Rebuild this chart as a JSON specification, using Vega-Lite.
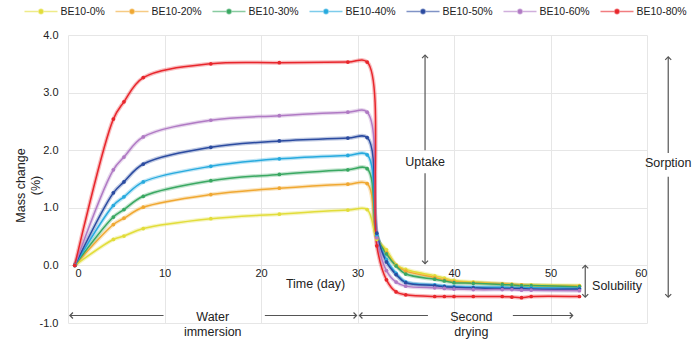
{
  "$schema": "https://vega.github.io/schema/vega-lite/v6.json",
  "width": 579,
  "height": 288,
  "autosize": "none",
  "padding": {"left": 68, "top": 35, "right": 53, "bottom": 21},
  "background": "white",
  "config": {
    "view": {"stroke": null},
    "font": "Liberation Sans",
    "text": {"font": "Liberation Sans"}
  },
  "datasets": {
    "series": [
      {"s":"BE10-0%","d":0.7,"v":0},{"s":"BE10-0%","d":4.7,"v":0.45},{"s":"BE10-0%","d":5.8,"v":0.51},{"s":"BE10-0%","d":7.8,"v":0.64},{"s":"BE10-0%","d":14.8,"v":0.81},{"s":"BE10-0%","d":21.9,"v":0.89},{"s":"BE10-0%","d":29,"v":0.96},{"s":"BE10-0%","d":31,"v":0.97},{"s":"BE10-0%","d":32,"v":0.45},{"s":"BE10-0%","d":33,"v":0.27},{"s":"BE10-0%","d":34,"v":0.01},{"s":"BE10-0%","d":35,"v":-0.07},{"s":"BE10-0%","d":38,"v":-0.18},{"s":"BE10-0%","d":39,"v":-0.22},{"s":"BE10-0%","d":40,"v":-0.26},{"s":"BE10-0%","d":42,"v":-0.29},{"s":"BE10-0%","d":45,"v":-0.32},{"s":"BE10-0%","d":46,"v":-0.33},{"s":"BE10-0%","d":47,"v":-0.34},{"s":"BE10-0%","d":48,"v":-0.34},{"s":"BE10-0%","d":53,"v":-0.35},
      {"s":"BE10-20%","d":0.7,"v":0},{"s":"BE10-20%","d":4.7,"v":0.71},{"s":"BE10-20%","d":5.8,"v":0.82},{"s":"BE10-20%","d":7.8,"v":1.01},{"s":"BE10-20%","d":14.8,"v":1.23},{"s":"BE10-20%","d":21.9,"v":1.34},{"s":"BE10-20%","d":29,"v":1.41},{"s":"BE10-20%","d":31,"v":1.42},{"s":"BE10-20%","d":32,"v":0.48},{"s":"BE10-20%","d":33,"v":0.22},{"s":"BE10-20%","d":34,"v":0.0},{"s":"BE10-20%","d":35,"v":-0.10},{"s":"BE10-20%","d":38,"v":-0.21},{"s":"BE10-20%","d":39,"v":-0.25},{"s":"BE10-20%","d":40,"v":-0.28},{"s":"BE10-20%","d":42,"v":-0.30},{"s":"BE10-20%","d":45,"v":-0.32},{"s":"BE10-20%","d":46,"v":-0.33},{"s":"BE10-20%","d":47,"v":-0.34},{"s":"BE10-20%","d":48,"v":-0.35},{"s":"BE10-20%","d":53,"v":-0.36},
      {"s":"BE10-30%","d":0.7,"v":0},{"s":"BE10-30%","d":4.7,"v":0.84},{"s":"BE10-30%","d":5.8,"v":0.97},{"s":"BE10-30%","d":7.8,"v":1.20},{"s":"BE10-30%","d":14.8,"v":1.47},{"s":"BE10-30%","d":21.9,"v":1.58},{"s":"BE10-30%","d":29,"v":1.66},{"s":"BE10-30%","d":31,"v":1.68},{"s":"BE10-30%","d":32,"v":0.50},{"s":"BE10-30%","d":33,"v":0.20},{"s":"BE10-30%","d":34,"v":-0.01},{"s":"BE10-30%","d":35,"v":-0.15},{"s":"BE10-30%","d":38,"v":-0.24},{"s":"BE10-30%","d":39,"v":-0.27},{"s":"BE10-30%","d":40,"v":-0.30},{"s":"BE10-30%","d":42,"v":-0.31},{"s":"BE10-30%","d":45,"v":-0.33},{"s":"BE10-30%","d":46,"v":-0.34},{"s":"BE10-30%","d":47,"v":-0.35},{"s":"BE10-30%","d":48,"v":-0.35},{"s":"BE10-30%","d":53,"v":-0.37},
      {"s":"BE10-40%","d":0.7,"v":0},{"s":"BE10-40%","d":4.7,"v":1.04},{"s":"BE10-40%","d":5.8,"v":1.19},{"s":"BE10-40%","d":7.8,"v":1.45},{"s":"BE10-40%","d":14.8,"v":1.72},{"s":"BE10-40%","d":21.9,"v":1.85},{"s":"BE10-40%","d":29,"v":1.91},{"s":"BE10-40%","d":31,"v":1.92},{"s":"BE10-40%","d":32,"v":0.52},{"s":"BE10-40%","d":33,"v":0.10},{"s":"BE10-40%","d":34,"v":-0.14},{"s":"BE10-40%","d":35,"v":-0.29},{"s":"BE10-40%","d":38,"v":-0.34},{"s":"BE10-40%","d":39,"v":-0.36},{"s":"BE10-40%","d":40,"v":-0.37},{"s":"BE10-40%","d":42,"v":-0.38},{"s":"BE10-40%","d":45,"v":-0.38},{"s":"BE10-40%","d":46,"v":-0.39},{"s":"BE10-40%","d":47,"v":-0.39},{"s":"BE10-40%","d":48,"v":-0.39},{"s":"BE10-40%","d":53,"v":-0.40},
      {"s":"BE10-50%","d":0.7,"v":0},{"s":"BE10-50%","d":4.7,"v":1.26},{"s":"BE10-50%","d":5.8,"v":1.45},{"s":"BE10-50%","d":7.8,"v":1.76},{"s":"BE10-50%","d":14.8,"v":2.05},{"s":"BE10-50%","d":21.9,"v":2.16},{"s":"BE10-50%","d":29,"v":2.21},{"s":"BE10-50%","d":31,"v":2.22},{"s":"BE10-50%","d":32,"v":0.56},{"s":"BE10-50%","d":33,"v":0.06},{"s":"BE10-50%","d":34,"v":-0.16},{"s":"BE10-50%","d":35,"v":-0.30},{"s":"BE10-50%","d":38,"v":-0.35},{"s":"BE10-50%","d":39,"v":-0.37},{"s":"BE10-50%","d":40,"v":-0.38},{"s":"BE10-50%","d":42,"v":-0.39},{"s":"BE10-50%","d":45,"v":-0.40},{"s":"BE10-50%","d":46,"v":-0.40},{"s":"BE10-50%","d":47,"v":-0.40},{"s":"BE10-50%","d":48,"v":-0.41},{"s":"BE10-50%","d":53,"v":-0.41},
      {"s":"BE10-60%","d":0.7,"v":0},{"s":"BE10-60%","d":4.7,"v":1.66},{"s":"BE10-60%","d":5.8,"v":1.88},{"s":"BE10-60%","d":7.8,"v":2.23},{"s":"BE10-60%","d":14.8,"v":2.52},{"s":"BE10-60%","d":21.9,"v":2.60},{"s":"BE10-60%","d":29,"v":2.66},{"s":"BE10-60%","d":31,"v":2.66},{"s":"BE10-60%","d":32,"v":0.48},{"s":"BE10-60%","d":33,"v":-0.09},{"s":"BE10-60%","d":34,"v":-0.29},{"s":"BE10-60%","d":35,"v":-0.36},{"s":"BE10-60%","d":38,"v":-0.39},{"s":"BE10-60%","d":39,"v":-0.40},{"s":"BE10-60%","d":40,"v":-0.41},{"s":"BE10-60%","d":42,"v":-0.42},{"s":"BE10-60%","d":45,"v":-0.42},{"s":"BE10-60%","d":46,"v":-0.42},{"s":"BE10-60%","d":47,"v":-0.43},{"s":"BE10-60%","d":48,"v":-0.43},{"s":"BE10-60%","d":53,"v":-0.44},
      {"s":"BE10-80%","d":0.7,"v":0},{"s":"BE10-80%","d":4.7,"v":2.54},{"s":"BE10-80%","d":5.8,"v":2.84},{"s":"BE10-80%","d":7.8,"v":3.26},{"s":"BE10-80%","d":14.8,"v":3.50},{"s":"BE10-80%","d":21.9,"v":3.52},{"s":"BE10-80%","d":29,"v":3.53},{"s":"BE10-80%","d":31,"v":3.53},{"s":"BE10-80%","d":32,"v":0.34},{"s":"BE10-80%","d":33,"v":-0.25},{"s":"BE10-80%","d":34,"v":-0.46},{"s":"BE10-80%","d":35,"v":-0.51},{"s":"BE10-80%","d":38,"v":-0.54},{"s":"BE10-80%","d":39,"v":-0.54},{"s":"BE10-80%","d":40,"v":-0.54},{"s":"BE10-80%","d":42,"v":-0.54},{"s":"BE10-80%","d":45,"v":-0.54},{"s":"BE10-80%","d":46,"v":-0.55},{"s":"BE10-80%","d":47,"v":-0.56},{"s":"BE10-80%","d":48,"v":-0.54},{"s":"BE10-80%","d":53,"v":-0.54}
    ],
    "segs": [
      {"x":37,"y":3.65,"x2":37,"y2":2.0},
      {"x":37,"y":1.6,"x2":37,"y2":0.03},
      {"x":62.2,"y":3.62,"x2":62.2,"y2":1.95},
      {"x":62.2,"y":1.54,"x2":62.2,"y2":-0.55},
      {"x":53.6,"y":0,"x2":53.6,"y2":-0.55},
      {"x":0.2,"y":-0.87,"x2":9.9,"y2":-0.87},
      {"x":20.4,"y":-0.87,"x2":29.9,"y2":-0.87},
      {"x":30.2,"y":-0.87,"x2":37.3,"y2":-0.87},
      {"x":46.1,"y":-0.87,"x2":52.3,"y2":-0.87}
    ],
    "heads": [
      {"x":37,"y":3.65,"a":0},{"x":37,"y":0.03,"a":180},
      {"x":62.2,"y":3.62,"a":0},{"x":62.2,"y":-0.55,"a":180},
      {"x":53.6,"y":0,"a":0},{"x":53.6,"y":-0.55,"a":180},
      {"x":0.2,"y":-0.87,"a":270},{"x":29.9,"y":-0.87,"a":90},
      {"x":30.2,"y":-0.87,"a":270},{"x":52.3,"y":-0.87,"a":90}
    ],
    "labels": [
      {"t":"Uptake","x":37,"y":1.79},
      {"t":"Sorption","x":62.2,"y":1.77},
      {"t":"Solubility","x":56.9,"y":-0.35},
      {"t":"Water","x":15,"y":-0.9},
      {"t":"immersion","x":15,"y":-1.16},
      {"t":"Second","x":41.8,"y":-0.89},
      {"t":"drying","x":41.8,"y":-1.16}
    ]
  },
  "layer": [
    {
      "data": {"name": "series"},
      "mark": {"type": "line", "interpolate": "catmull-rom", "strokeWidth": 4, "opacity": 0.3},
      "encoding": {
        "x": {"field": "d", "type": "quantitative", "scale": {"domain": [0, 60], "nice": false, "zero": false},
          "axis": {"values": [0,10,20,30,40,50,60], "grid": true, "gridColor": "#e6e6e6", "domain": false, "ticks": false,
            "offset": -57.6, "labelPadding": 2, "labelFontSize": 11, "labelColor": "#222", "labelFont": "Liberation Sans",
            "labelOffset": {"condition": {"test": "datum.value === 0", "value": 7}, "value": 0},
            "title": "Time (day)", "titleFontSize": 12.5, "titleFontWeight": "normal", "titleColor": "#222", "titleFont": "Liberation Sans",
            "titleX": 247, "titleY": 18, "titleBaseline": "middle", "titleAnchor": null}},
        "y": {"field": "v", "type": "quantitative", "scale": {"domain": [-1, 4], "nice": false},
          "axis": {"values": [-1,-0.5,0,0.5,1,1.5,2,2.5,3,3.5,4], "format": ".1f", "labelOverlap": false,
            "labelExpr": "replace(datum.label, '\u2212', '-')",
            "grid": true, "gridColor": "#e6e6e6", "domain": false, "ticks": false,
            "labelPadding": 10, "labelFontSize": 11, "labelColor": "#222", "labelFont": "Liberation Sans",
            "title": ["Mass change", "(%)"], "titleFontSize": 12.5, "titleFontWeight": "normal", "titleColor": "#222", "titleFont": "Liberation Sans",
            "titleLineHeight": 15, "titleX": -48, "titleY": 150, "titleBaseline": "middle", "titleAngle": -90}},
        "color": {"field": "s", "type": "nominal",
          "scale": {"domain": ["BE10-0%","BE10-20%","BE10-30%","BE10-40%","BE10-50%","BE10-60%","BE10-80%"],
            "range": ["#e2dd3a","#f0a832","#3aa862","#27aade","#2b4ba0","#b07ac4","#e8262c"]},
          "legend": {"orient": "none", "direction": "horizontal", "columns": 7, "legendX": -44.5, "legendY": -41, "padding": 0,
            "title": null, "labelFontSize": 10.5, "labelFont": "Liberation Sans", "labelColor": "#222", "labelOffset": 2, "columnPadding": 7,
            "symbolType": "M-1,0L1,0M0.13,0A0.13,0.13,0,1,1,-0.13,0A0.13,0.13,0,1,1,0.13,0", "symbolSize": 1089, "symbolStrokeWidth": 1.5, "symbolOpacity": 1,
            "encode": {"symbols": {"update": {"fill": {"scale": "color", "field": "value"}, "stroke": {"scale": "color", "field": "value"}, "fillOpacity": {"value": 1}, "strokeOpacity": {"value": 0.6}, "opacity": {"value": 1}}}}}}
      }
    },
    {
      "data": {"name": "series"},
      "mark": {"type": "line", "interpolate": "catmull-rom", "strokeWidth": 1.5},
      "encoding": {
        "x": {"field": "d", "type": "quantitative"},
        "y": {"field": "v", "type": "quantitative"},
        "color": {"field": "s", "type": "nominal"}
      }
    },
    {
      "data": {"name": "series"},
      "mark": {"type": "point", "filled": true, "size": 14, "opacity": 1},
      "encoding": {
        "x": {"field": "d", "type": "quantitative"},
        "y": {"field": "v", "type": "quantitative"},
        "color": {"field": "s", "type": "nominal"}
      }
    },
    {
      "data": {"name": "segs"},
      "mark": {"type": "rule", "color": "#555", "strokeWidth": 1.2},
      "encoding": {
        "x": {"field": "x", "type": "quantitative"},
        "y": {"field": "y", "type": "quantitative"},
        "x2": {"field": "x2"},
        "y2": {"field": "y2"}
      }
    },
    {
      "data": {"name": "heads"},
      "mark": {"type": "point", "shape": "M-1,1L0,0L1,1", "filled": false, "size": 36, "color": "#555", "strokeWidth": 1.2, "opacity": 1},
      "encoding": {
        "x": {"field": "x", "type": "quantitative"},
        "y": {"field": "y", "type": "quantitative"},
        "angle": {"field": "a", "type": "quantitative", "scale": null}
      }
    },
    {
      "data": {"name": "labels"},
      "mark": {"type": "text", "fontSize": 12.5, "color": "#222", "align": "center", "baseline": "middle", "font": "Liberation Sans"},
      "encoding": {
        "x": {"field": "x", "type": "quantitative"},
        "y": {"field": "y", "type": "quantitative"},
        "text": {"field": "t"}
      }
    }
  ]
}
